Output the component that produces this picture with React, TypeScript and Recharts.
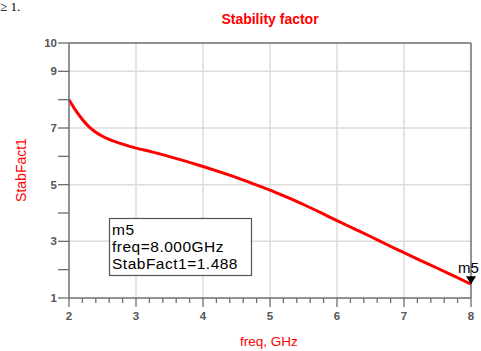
import React from 'react';
import { LineChart, Line, XAxis, YAxis, ReferenceLine, ReferenceDot } from 'recharts';

// Values
const freqs = [2.0, 2.1, 2.2, 2.3, 2.4, 2.5, 2.6, 2.8, 3.0, 3.25, 3.5, 3.75, 4.0, 4.25, 4.5, 4.75, 5.0, 5.25, 5.5, 5.75, 6.0, 6.25, 6.5, 6.75, 7.0, 7.25, 7.5, 7.75, 8.0];
const stabFact1 = [8.0, 7.62, 7.3, 7.04, 6.85, 6.71, 6.6, 6.43, 6.29, 6.15, 5.99, 5.82, 5.64, 5.45, 5.25, 5.03, 4.81, 4.56, 4.3, 4.02, 3.73, 3.45, 3.17, 2.88, 2.6, 2.32, 2.05, 1.77, 1.488];

const xMajor = [2, 3, 4, 5, 6, 7, 8];
const xGrid = [3, 4, 5, 6, 7];
const yTicks = [1, 2, 3, 4, 5, 6, 7, 8, 9, 10];
const yLabeled = [1, 3, 5, 7, 9, 10];
const yGrid = [3, 5, 7, 9];

const markerFreq = 8.0;
const markerValue = 1.488;

// minor x ticks every 0.2 GHz
const xTicks = Array.from({ length: 31 }, (_, i) => Math.round((2 + i * 0.2) * 10) / 10);

const data = freqs.map((f, i) => ({ freq: f, value: stabFact1[i] }));

const AXIS = '#6e6e6e';
const GRID = '#dcdcdc';
const TICK_TEXT = '#555555';
const RED = '#ff0000';
const FONT = "Arial, 'Liberation Sans', sans-serif";

const XTick = (props: any) => {
  const { x, y, payload } = props;
  const v = payload.value;
  const major = Math.abs(v - Math.round(v)) < 1e-6 && xMajor.includes(Math.round(v));
  return (
    <g>
      <line x1={x} x2={x} y1={y} y2={y + (major ? 9 : 5)} stroke={AXIS} strokeWidth={1.3} />
      {major && (
        <text x={x} y={y + 22} textAnchor="middle" fill={TICK_TEXT} fontSize={11.5} fontWeight="bold" fontFamily={FONT}>
          {Math.round(v)}
        </text>
      )}
    </g>
  );
};

const YTick = (props: any) => {
  const { x, y, payload } = props;
  const v = payload.value;
  return (
    <g>
      <line x1={x - 11} x2={x} y1={y} y2={y} stroke={AXIS} strokeWidth={1.3} />
      {yLabeled.includes(v) && (
        <text x={x - 12} y={y + 4} textAnchor="end" fill={TICK_TEXT} fontSize={11.5} fontWeight="bold" fontFamily={FONT}>
          {v}
        </text>
      )}
    </g>
  );
};

const MarkerShape = (props: any) => {
  const { cx, cy } = props;
  return (
    <g>
      <polygon points={`${cx - 5},${cy - 8} ${cx + 5},${cy - 8} ${cx},${cy}`} fill="#000" />
      <text x={cx - 13} y={cy - 11} fill="#000" fontSize={15} fontFamily={FONT}>m5</text>
    </g>
  );
};

const App = () => {
  const boxText = { fill: '#000', fontSize: 15.5, letterSpacing: 0.5, fontFamily: FONT };
  return (
    <div style={{ position: 'absolute', left: 0, top: 0, width: 481, height: 351, background: '#fff' }}>
      <LineChart width={481} height={351} data={data} margin={{ top: 43, right: 10, bottom: 0, left: 0 }}>
        {xGrid.map((g) => (
          <ReferenceLine key={`vx-${g}`} x={g} stroke={GRID} strokeWidth={1.5} />
        ))}
        {yGrid.map((g) => (
          <ReferenceLine key={`hy-${g}`} y={g} stroke={GRID} strokeWidth={1.5} />
        ))}
        <ReferenceLine y={10} stroke={AXIS} strokeWidth={1.5} />
        <ReferenceLine x={8} stroke={AXIS} strokeWidth={1.5} />
        <XAxis
          dataKey="freq"
          type="number"
          domain={[2, 8]}
          ticks={xTicks}
          interval={0}
          height={53}
          tickSize={0}
          tickMargin={0}
          tickLine={false}
          axisLine={{ stroke: AXIS, strokeWidth: 1.5 }}
          tick={XTick}
        />
        <YAxis
          type="number"
          domain={[1, 10]}
          ticks={yTicks}
          interval={0}
          width={69}
          tickSize={0}
          tickMargin={0}
          tickLine={false}
          axisLine={{ stroke: AXIS, strokeWidth: 1.5 }}
          tick={YTick}
        />
        <Line
          type="monotone"
          dataKey="value"
          stroke={RED}
          strokeWidth={3}
          dot={false}
          isAnimationActive={false}
        />
        <ReferenceDot x={markerFreq} y={markerValue} shape={MarkerShape} />
      </LineChart>
      <svg width={481} height={351} style={{ position: 'absolute', left: 0, top: 0, pointerEvents: 'none' }}>
        <text x={0} y={11} fontSize={13} fontFamily="'Liberation Serif', 'DejaVu Serif', serif" fill="#000">≥ 1.</text>
        <text x={270} y={24} textAnchor="middle" fill={RED} fontSize={14} fontWeight="bold" fontFamily={FONT}>Stability factor</text>
        <text x={0} y={0} transform="translate(26,170) rotate(-90)" textAnchor="middle" fill={RED} fontSize={14} fontFamily={FONT}>StabFact1</text>
        <text x={269} y={346} textAnchor="middle" fill={RED} fontSize={13.5} fontFamily={FONT}>freq, GHz</text>
        <rect x={109.5} y={218.5} width={142} height={57} fill="#fff" stroke="#555" strokeWidth={1.2} />
        <text x={112} y={235} {...boxText}>m5</text>
        <text x={112} y={252} {...boxText}>freq={markerFreq.toFixed(3)}GHz</text>
        <text x={112} y={269} {...boxText}>StabFact1={markerValue}</text>
      </svg>
    </div>
  );
};

export default App;
